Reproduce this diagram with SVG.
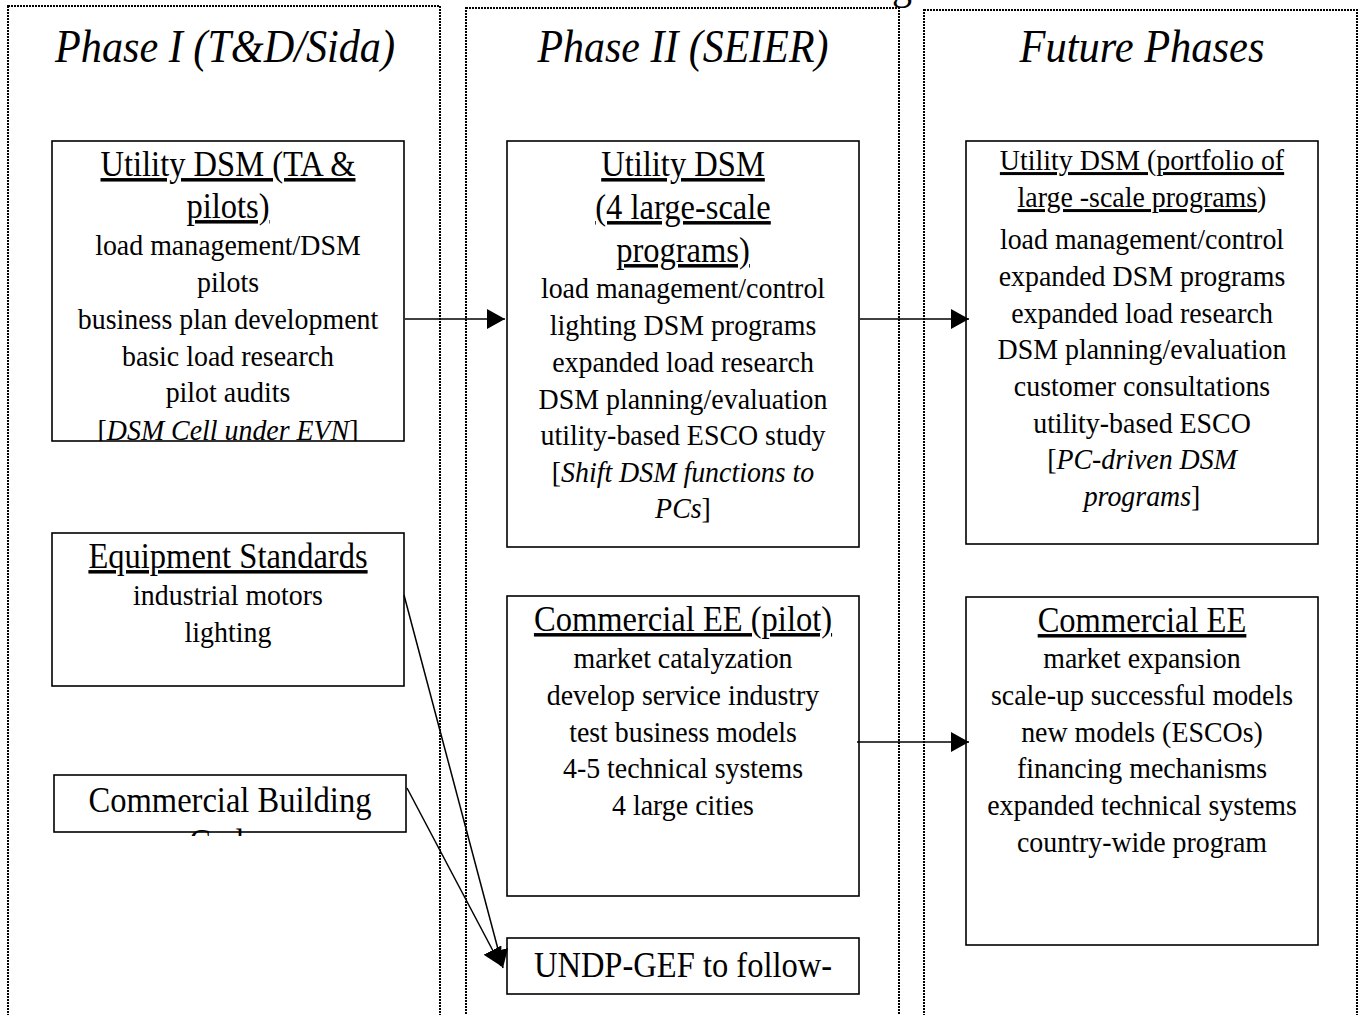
<svg xmlns="http://www.w3.org/2000/svg" width="1364" height="1015" viewBox="0 0 1364 1015">
<style>
.col{fill:none;stroke:#000;stroke-width:2;stroke-dasharray:2 1;shape-rendering:crispEdges}
.box{fill:#fff;stroke:#000;stroke-width:1.6}
text{font-family:"Liberation Serif","Times New Roman",serif;fill:#000;text-anchor:middle}
.t{font-size:46px;font-style:italic}
.h{font-size:35px}
.b{font-size:30px}
.u{text-decoration:underline}
.i{font-style:italic}
.conn{stroke:#000;stroke-width:1.5;fill:none;marker-end:url(#ah)}
</style>
<defs>
<marker id="ah" markerUnits="userSpaceOnUse" markerWidth="18" markerHeight="20" viewBox="0 0 18 20" refX="18" refY="10" orient="auto">
<path d="M0,0 L18,10 L0,20 z" fill="#000"/>
</marker>
<clipPath id="clipA"><rect x="52" y="141" width="352" height="300"/></clipPath>
<clipPath id="clipE"><rect x="54" y="775" width="352" height="61"/></clipPath>
<clipPath id="clipH"><rect x="507" y="938" width="352" height="56"/></clipPath>
</defs>
<rect width="1364" height="1015" fill="#fff"/>
<text x="902" y="-1" style="font-size:40px">g</text>
<g id="columns">
<rect class="col" x="8" y="6" width="432" height="1030"/>
<rect class="col" x="466" y="8" width="433" height="1030"/>
<rect class="col" x="924" y="10" width="433" height="1030"/>
<text class="t" x="225" y="62" textLength="340" lengthAdjust="spacingAndGlyphs">Phase I (T&amp;D/Sida)</text>
<text class="t" x="683" y="62" textLength="291" lengthAdjust="spacingAndGlyphs">Phase II (SEIER)</text>
<text class="t" x="1142" y="62" textLength="245" lengthAdjust="spacingAndGlyphs">Future Phases</text>
</g>
<g id="n-utility-dsm-1">
<rect class="box" x="52" y="141" width="352" height="300"/>
<g clip-path="url(#clipA)"><g transform="translate(228 0) scale(0.93 1)">
<text class="h u" x="0" y="176">Utility DSM (TA &amp;</text>
<text class="h u" x="0" y="218">pilots)</text>
<text class="b" x="0" y="255">load management/DSM</text>
<text class="b" x="0" y="292">pilots</text>
<text class="b" x="0" y="329">business plan development</text>
<text class="b" x="0" y="366">basic load research</text>
<text class="b" x="0" y="402">pilot audits</text>
<text class="b" x="0" y="440">[<tspan class="i">DSM Cell under EVN</tspan>]</text>
</g></g>
</g>
<g id="n-utility-dsm-2">
<rect class="box" x="507" y="141" width="352" height="406"/>
<g transform="translate(683 0) scale(0.93 1)">
<text class="h u" x="0" y="176">Utility DSM</text>
<text class="h u" x="0" y="219">(4 large-scale</text>
<text class="h u" x="0" y="262">programs)</text>
<text class="b" x="0" y="298">load management/control</text>
<text class="b" x="0" y="335">lighting DSM programs</text>
<text class="b" x="0" y="372">expanded load research</text>
<text class="b" x="0" y="409">DSM planning/evaluation</text>
<text class="b" x="0" y="445">utility-based ESCO study</text>
<text class="b" x="0" y="482">[<tspan class="i">Shift DSM functions to</tspan></text>
<text class="b" x="0" y="518"><tspan class="i">PCs</tspan>]</text>
</g>
</g>
<g id="n-utility-dsm-3">
<rect class="box" x="966" y="141" width="352" height="403"/>
<g transform="translate(1142 0) scale(0.93 1)">
<text class="b u" x="0" y="170">Utility DSM (portfolio of</text>
<text class="b" x="0" y="207"><tspan class="u">large -scale programs</tspan>)</text>
<text class="b" x="0" y="249">load management/control</text>
<text class="b" x="0" y="286">expanded DSM programs</text>
<text class="b" x="0" y="323">expanded load research</text>
<text class="b" x="0" y="359">DSM planning/evaluation</text>
<text class="b" x="0" y="396">customer consultations</text>
<text class="b" x="0" y="433">utility-based ESCO</text>
<text class="b" x="0" y="469">[<tspan class="i">PC-driven DSM</tspan></text>
<text class="b" x="0" y="506"><tspan class="i">programs</tspan>]</text>
</g>
</g>
<g id="n-equipment-standards">
<rect class="box" x="52" y="533" width="352" height="153"/>
<g transform="translate(228 0) scale(0.93 1)">
<text class="h u" x="0" y="568">Equipment Standards</text>
<text class="b" x="0" y="605">industrial motors</text>
<text class="b" x="0" y="642">lighting</text>
</g>
</g>
<g id="n-commercial-building">
<rect class="box" x="54" y="775" width="352" height="57"/>
<g clip-path="url(#clipE)"><g transform="translate(230 0) scale(0.93 1)">
<text class="h" x="0" y="812">Commercial Building</text>
<text class="h" x="0" y="854">Codes</text>
</g></g>
</g>
<g id="n-commercial-ee-pilot">
<rect class="box" x="507" y="596" width="352" height="300"/>
<g transform="translate(683 0) scale(0.93 1)">
<text class="h u" x="0" y="631">Commercial EE (pilot)</text>
<text class="b" x="0" y="668">market catalyzation</text>
<text class="b" x="0" y="705">develop service industry</text>
<text class="b" x="0" y="742">test business models</text>
<text class="b" x="0" y="778">4-5 technical systems</text>
<text class="b" x="0" y="815">4 large cities</text>
</g>
</g>
<g id="n-commercial-ee">
<rect class="box" x="966" y="597" width="352" height="348"/>
<g transform="translate(1142 0) scale(0.93 1)">
<text class="h u" x="0" y="632">Commercial EE</text>
<text class="b" x="0" y="668">market expansion</text>
<text class="b" x="0" y="705">scale-up successful models</text>
<text class="b" x="0" y="742">new models (ESCOs)</text>
<text class="b" x="0" y="778">financing mechanisms</text>
<text class="b" x="0" y="815">expanded technical systems</text>
<text class="b" x="0" y="852">country-wide program</text>
</g>
</g>
<g id="n-undp-gef">
<rect class="box" x="507" y="938" width="352" height="56"/>
<g clip-path="url(#clipH)"><g transform="translate(683 0) scale(0.93 1)">
<text class="h" x="0" y="977">UNDP-GEF to follow-</text>
</g></g>
</g>
<g id="connectors">
<line class="conn" x1="405" y1="319" x2="505" y2="319"/>
<line class="conn" x1="860" y1="319" x2="969" y2="319"/>
<line class="conn" x1="857" y1="742" x2="969" y2="742"/>
<line class="conn" x1="404" y1="595" x2="503" y2="968"/>
<line class="conn" x1="407" y1="788" x2="501" y2="966"/>
</g>
</svg>
